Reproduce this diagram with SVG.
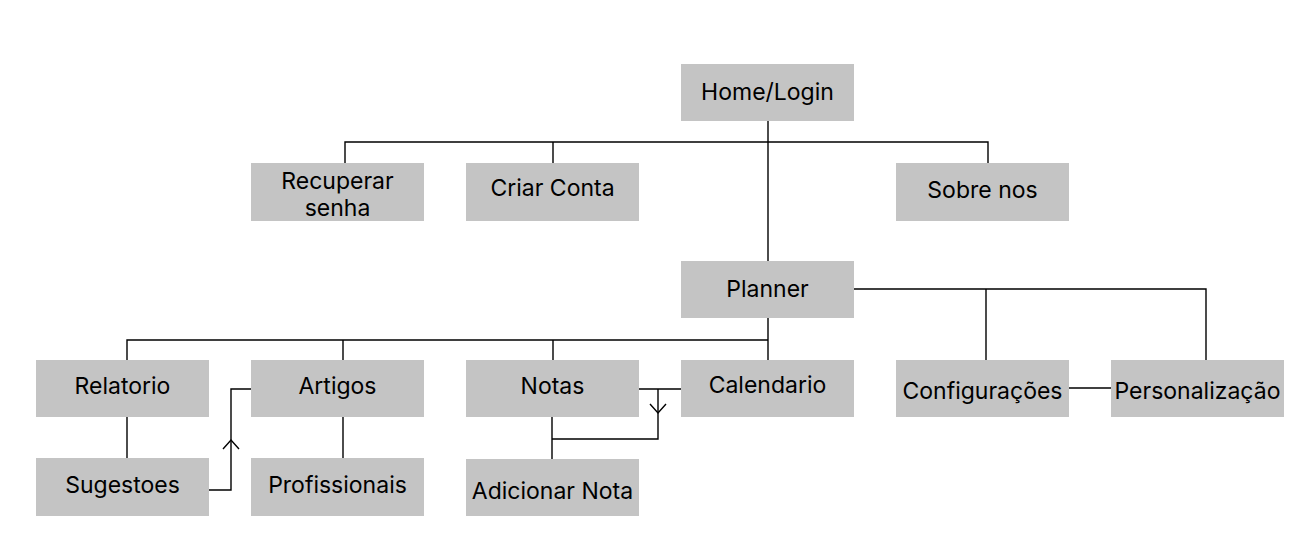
<svg xmlns="http://www.w3.org/2000/svg" xmlns:xlink="http://www.w3.org/1999/xlink" width="1315" height="551" viewBox="0 0 1315 551">
<style>
.box{fill:#c4c4c4;}
.lbl{font-family:Inter,"Liberation Sans",sans-serif;font-size:23px;fill:#000;text-anchor:middle;}
.ln{fill:none;stroke:#000;stroke-width:1.4;}
</style>
<defs>
<path id="chevUp" d="M-8,9 L0,0 L8,9" class="ln"/>
</defs>
<rect width="1315" height="551" fill="#fff"/>
<g id="connectors">
<path class="ln" d="M768,121 V262"/>
<path class="ln" d="M345,163 V142 H988 V163 M553,142 V163"/>
<path class="ln" d="M854,289 H1206 V360 M986,289 V360"/>
<path class="ln" d="M768,318 V360 M768,340 H127 V360 M343,340 V360 M553,340 V360"/>
<path class="ln" d="M127,417 V458"/>
<path class="ln" d="M343,417 V458"/>
<path class="ln" d="M1069,388 H1111"/>
<path class="ln" d="M209,490 H231 V389 H251"/>
<use xlink:href="#chevUp" transform="translate(231,440)"/>
<path class="ln" d="M639,389 H681 M658,389 V439 H552 M552,417 V459"/>
<use xlink:href="#chevUp" transform="translate(658,413) rotate(180)"/>
</g>
<g id="home"><rect class="box" x="681" y="64" width="173" height="57"/><text class="lbl" x="767.5" y="100">Home/Login</text></g>
<g id="recuperar"><rect class="box" x="251" y="163" width="173" height="58"/><text class="lbl" x="337.5" y="189">Recuperar</text><text class="lbl" x="337.5" y="216">senha</text></g>
<g id="criar"><rect class="box" x="466" y="163" width="173" height="58"/><text class="lbl" x="552.5" y="196">Criar Conta</text></g>
<g id="sobre"><rect class="box" x="896" y="163" width="173" height="58"/><text class="lbl" x="982.5" y="198">Sobre nos</text></g>
<g id="planner"><rect class="box" x="681" y="261" width="173" height="57"/><text class="lbl" x="767.5" y="297">Planner</text></g>
<g id="relatorio"><rect class="box" x="36" y="360" width="173" height="57"/><text class="lbl" x="122.5" y="394">Relatorio</text></g>
<g id="artigos"><rect class="box" x="251" y="360" width="173" height="57"/><text class="lbl" x="337.5" y="394">Artigos</text></g>
<g id="notas"><rect class="box" x="466" y="360" width="173" height="57"/><text class="lbl" x="552.5" y="394">Notas</text></g>
<g id="calendario"><rect class="box" x="681" y="360" width="173" height="57"/><text class="lbl" x="767.5" y="393">Calendario</text></g>
<g id="configuracoes"><rect class="box" x="896" y="360" width="173" height="57"/><text class="lbl" x="982.5" y="399">Configurações</text></g>
<g id="personalizacao"><rect class="box" x="1111" y="360" width="173" height="57"/><text class="lbl" x="1197.5" y="399">Personalização</text></g>
<g id="sugestoes"><rect class="box" x="36" y="458" width="173" height="58"/><text class="lbl" x="122.5" y="493">Sugestoes</text></g>
<g id="profissionais"><rect class="box" x="251" y="458" width="173" height="58"/><text class="lbl" x="337.5" y="493">Profissionais</text></g>
<g id="adicionar"><rect class="box" x="466" y="459" width="173" height="57"/><text class="lbl" x="552.5" y="499">Adicionar Nota</text></g>
</svg>
